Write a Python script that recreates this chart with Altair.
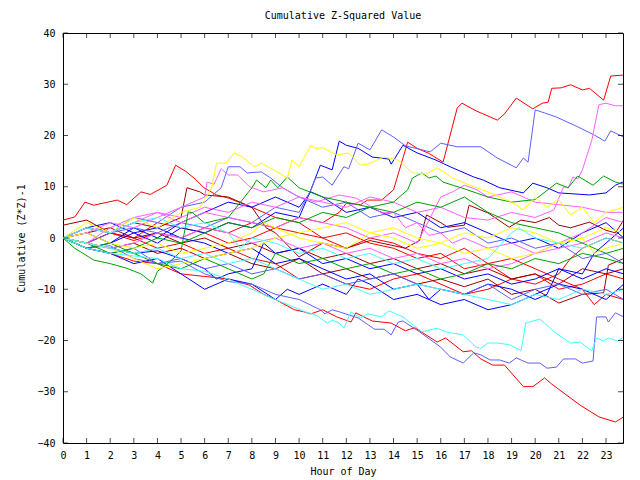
import altair as alt
import pandas as pd

# ---- data: each series is a list of (hour, cumulative value) ----
red_top = [(0,0),(1,-1),(2,1),(3,-0.5),(4,1),(5,0),(6,2),(7,1),(8,3),(9,2),(10,4),(11,3),(11.7,5),(12,6.8),(12.6,6.5),(12.9,7.4),(13.5,7.4),(14.0,9.4),(14.6,18.7),(15,17.5),(15.5,16.5),(16.1,14.8),(16.7,25.4),(16.9,26.3),(17.5,24.8),(18.4,23),(18.7,24.2),(19.2,27.3),(19.9,25.2),(20.3,26.3),(20.55,26.5),(20.7,29.2),(21.1,29.3),(21.5,29.9),(22.0,28.9),(22.3,29.2),(22.9,26.9),(23.2,31.6),(23.75,31.8)]
red_mid = [(0,3.5),(0.5,4.1),(0.93,7),(1.3,6.4),(2.3,7.4),(2.7,6.5),(3.3,9),(3.7,8.5),(4.4,10.3),(4.77,14.2),(5.2,13),(5.6,11.5),(5.97,9.8),(6.5,8.4),(7,7.8),(8,6),(9,4),(10,3),(11,0),(12,1),(13,-1),(14,-2),(15,-4),(16,-3),(17,-6),(18,-5),(19,-8),(20,-7),(21,-10),(22,-9),(23,-7),(23.75,-8)]
red_bottom = [(0,0),(0.5,-1),(1,-2),(2,-3),(3,-4.5),(4,-5),(5,-7),(6,-7.5),(7,-8),(7.9,-9.2),(8.5,-11),(9,-12),(9.8,-14),(10.2,-14.4),(10.5,-14.8),(11,-14),(11.6,-15.4),(12.2,-16.4),(12.4,-14.6),(13.1,-16.2),(13.9,-16.6),(14.5,-18.1),(14.9,-17.5),(15.85,-20.3),(16.2,-19.5),(16.95,-22.2),(17.3,-22),(17.7,-23.6),(18.2,-24.8),(18.7,-24.8),(19.5,-29),(19.9,-29),(20.4,-27.3),(20.7,-28.5),(21.9,-32.6),(22.7,-34.9),(23.4,-35.9),(23.75,-34.9)]
red_4 = [(0,0),(1,-1),(2,1),(3,0),(4,-2),(5,-1),(6,-3),(7,-2),(8,-4),(9,-5),(10,-8),(11,-7),(12,-9),(13,-10),(14,-8),(15,-7),(16,-9),(17,-11),(18,-10),(19,-8),(20,-9),(21,-7),(21.5,-4),(22,-2),(23,0),(23.75,-1)]
red_5 = [(0,0),(1,2),(2,1),(3,0),(4,3),(5,2),(6,1),(7,-1),(8,0),(9,2),(10,1),(11,0),(12,-2),(13,0),(14,-1),(15,-3),(16,-4),(17,-2),(18,-5),(19,-4),(20,-6),(21,-8),(22,-10),(22.5,-13),(23,-11),(23.75,-12)]
darkred_a = [(0,2.5),(1,3.5),(2,1),(3,3),(4,2),(5,4),(5.25,9.8),(5.8,9),(6,8.4),(7,8),(8,6),(8.6,2),(9,1),(10,-3.7),(11,-1),(12,-2),(13,-0.5),(13.9,-1.4),(14.5,-2),(15.1,-0.5),(15.4,4.5),(16,3),(16.3,2.1),(17,2.5),(17.2,6.4),(18,4.9),(18.9,2.1),(19.4,3.5),(20,3),(20.6,4),(21,2.5),(21.5,2),(22.3,3.1),(23,1.5),(23.4,1),(23.75,3.5)]
darkred_b = [(0,0),(1,-1),(2,-2),(3,-1),(4,-3),(5,-2),(6,-4),(7,-3),(8,-5),(9,-6),(10,-4),(11,-7),(12,-6),(13,-8),(14,-7),(15,-9),(16,-8),(17,-9.5),(18,-8),(19,-11),(20,-10),(21,-12.7),(22,-11),(22.9,-10.7),(23.1,-5.3),(23.75,-4)]
darkred_c = [(0,0),(1,1),(2,2),(3,0),(4,1),(5,-1),(6,0),(7,-2),(8,-1),(9,-3),(10,-2),(11,-4),(12,-3),(13,-5),(14,-4),(15,-6),(16,-5),(17,-7),(18,-6),(19,-8),(20,-7),(21,-9),(22,-6),(23,-7),(23.75,-6)]
blue_top = [(0,0),(1,-2),(2,-1),(3,1),(4,-1),(5,2),(6,1),(7,3),(8,2),(9,5),(10,4),(10.5,9.4),(10.9,14.2),(11.4,13.3),(11.7,18.9),(12.0,18.1),(12.5,17.5),(13.1,15.8),(13.8,15.4),(13.9,14.4),(14.4,18.1),(15.0,16.6),(15.8,15.2),(16.4,13.9),(17.4,11.9),(17.8,11.3),(18.5,9.8),(19.5,8.8),(19.9,10.7),(20.5,9.8),(21,8.8),(22.3,8.4),(23.0,8.8),(23.4,10.3),(23.75,11)]
blue_2 = [(0,0),(1,-1),(2,-2),(3,-3),(4,-2.5),(5,-4),(6,-6),(6.5,-8),(7,-7),(8,-6),(8.5,-1),(9,-3),(10,-2),(11,-5),(12,-4),(13,-6),(14,-5),(15,-7),(16,-6),(17,-8),(18,-7),(19,-9),(20,-8),(21,-6),(22,-7),(22.5,-3),(23,-1),(23.75,2)]
blue_3 = [(0,0),(1,2),(2,3),(3,1),(4,2),(5,0),(6,-1),(7,-3),(8,-2),(9,-5),(10,-4),(11,-6),(12,-8),(13,-7),(14,-10),(15,-9),(15.5,-12),(16,-10),(17,-11),(18,-9),(19,-10),(20,-12),(20.5,-11),(21,-6),(22,-8),(23,-6),(23.75,-7)]
blue_4 = [(0,0),(1,1),(2,-1),(3,2),(4,0),(5,3),(6,5),(7,7),(8,6),(9,8),(10,6),(10.5,9),(11,8),(12,5),(13,6),(14,4),(15,5),(16,2),(17,3),(18,1),(19,-1),(20,0),(21,-2),(22,1),(23,3),(23.75,0)]
blue_5 = [(0,0),(1,-2),(2,-3),(3,-5),(4,-4),(5,-7),(6,-10),(7,-8),(8,-9),(9,-12),(9.5,-10),(10,-11),(11,-9),(12,-11),(12.5,-8),(13,-9),(14,-12),(15,-11),(16,-13),(17,-12),(18,-14),(19,-13),(20,-11),(21,-9),(22,-10),(23,-12),(23.75,-9)]
lblue_top = [(0,0),(1,-1),(2,1),(3,2),(4,1),(5,3),(6,2),(7,4),(8,3),(9,6),(10,5),(10.5,9.4),(10.7,11.7),(11.0,11.9),(11.4,10.3),(11.9,13.9),(12.1,13.5),(12.5,18.5),(13.0,17.2),(13.5,21.1),(14.0,19.7),(14.5,18),(15.55,16.8),(16,18.5),(16.7,17.8),(17.7,17.8),(18.4,15.6),(19.2,13.7),(19.5,15.6),(19.7,14.8),(20.0,25),(20.4,24.4),(20.9,23.6),(21.8,21.7),(22.5,20.1),(22.95,18.9),(23.2,20.9),(23.75,19.7)]
lblue_2 = [(0,0),(1,2),(2,1),(3,4),(4,3),(5,6),(6,7),(6.7,9.8),(7.0,13.9),(7.5,13.9),(7.8,12.7),(8.4,12.9),(8.8,11.7),(9.3,9.8),(10,8),(11,6),(12,7),(13,4),(14,5),(15,3),(16,1),(17,2),(18,-1),(19,0),(20,-2),(21,-1),(22,-4),(23,-3),(23.75,-5)]
lblue_bottom = [(0,0),(1,-2),(2,-1.5),(3,-4),(4,-5),(5,-4.5),(6,-7),(7,-8.5),(8,-9),(9,-11),(10,-12),(10.9,-14),(11.1,-14.8),(11.4,-14),(11.7,-14.4),(12.5,-15.6),(13.2,-17.8),(13.6,-17.8),(13.9,-18.9),(14.2,-16.4),(14.4,-16.2),(15.1,-18.3),(16.0,-21.3),(16.4,-23.2),(16.95,-24.4),(17.4,-22.4),(17.7,-22.8),(18.1,-23.8),(18.5,-23.8),(18.9,-24.4),(19.2,-23.4),(19.7,-24.4),(20.2,-24.4),(20.5,-25.4),(20.9,-25.2),(21.2,-23.6),(21.7,-23.6),(22.0,-24.4),(22.45,-24),(22.6,-15.4),(23.0,-15.4),(23.1,-16.4),(23.4,-14.6),(23.75,-15.4)]
lblue_4 = [(0,0),(1,-2),(2,-3),(3,-2),(4,-5),(5,-4),(6,-6),(7,-5),(8,-7),(9,-6),(10,-8),(11,-7),(12,-9),(13,-8),(14,-7),(15,-9),(16,-10),(17,-11),(18,-9),(19,-12),(20,-10),(21,-9),(22,-11),(23,-10),(23.75,-12)]
magenta_top = [(0,0),(1,2),(2,1),(3,3),(4,5),(5,4),(6,6),(7,5),(8,7),(9,6),(10,8),(11,7),(12,6),(13,8),(14,7),(15,5),(16,6),(17,4),(18,3.5),(19,5),(20,4),(20.8,5.5),(21.2,10),(21.4,9.8),(21.6,11.9),(21.8,11.5),(22.0,13.3),(22.4,19.1),(22.7,26),(23.0,26.3),(23.4,25.8),(23.75,25.8)]
magenta_2 = [(0,0),(1,1),(2,3),(3,2),(4,4),(5,6),(6,8),(6.1,10.9),(6.4,10.5),(6.7,13.5),(7.0,12.3),(7.4,12.3),(7.9,10),(8.5,9),(9.3,9.8),(10,8),(10.7,7),(11.7,8.4),(12.4,7.8),(12.8,6.8),(13.5,4.9),(14,5),(14.5,2),(15,3),(15.5,0.5),(16,1),(16.5,-1),(17,0),(18,-2),(19,-1),(20,-3),(21,-2),(22,-1),(23,1),(23.75,0)]
magenta_3 = [(0,0),(1,-1),(2,2),(3,4),(4,5),(5,3),(6,5),(7,4),(8,3),(9,2),(10,4),(11,3),(12,2),(13,0),(14,1),(15,-1),(16,8),(16.5,9),(17,10.3),(17.5,9.5),(18,8),(19,9),(20,7),(21,6.5),(22,6),(23,5),(23.75,5)]
magenta_4 = [(0,0),(1,-1),(2,-2),(3,-1),(4,1),(5,0),(6,2),(7,1),(8,-1),(9,0),(10,-2),(11,-1),(12,-3),(13,-2),(14,-4),(15,-3),(16,-5),(17,-4),(18,-6),(19,-5),(20,-3),(21,-1),(22,1),(23,4),(23.75,3)]
green_1 = [(0,0),(0.5,-2),(1.3,-4.3),(2,-5),(2.7,-5.9),(3.3,-7),(3.8,-8.8),(4.0,-6.5),(4.3,-5.5),(4.75,-3.7),(5.0,-2.5),(5.3,5.1),(5.5,4.9),(6,2.9),(7,4),(8,9.8),(8.2,11.3),(8.6,9.8),(8.8,11.3),(9.1,9.8),(9.5,11.9),(10,9.8),(11,8),(12,7),(13,6),(14,7),(14.6,9.4),(14.8,11.7),(15.2,12.7),(15.5,11.7),(15.8,12.1),(16.1,10.9),(17,9.6),(18,8),(19,7),(20,7.5),(20.9,10.7),(21.4,9.8),(21.8,12.1),(22.45,10.3),(22.9,12.1),(23.4,10.9),(23.75,10.5)]
green_2 = [(0,0),(1,-1),(2,-3),(3,-2),(4,0),(5,-1),(6,1),(7,3),(8,2),(9,4),(10,3),(11,5),(12,4),(13,6),(14,5),(15,7),(16,6),(17,8),(18,5),(19,3),(20,2),(21,1),(22,-1),(23,-3),(23.75,-2)]
green_3 = [(0,0),(1,-2),(2,-1),(3,-3),(4,-5),(5,-6),(6,-4),(7,-6),(8,-8),(8.5,-7),(9,-3),(10,-5),(11,-4),(12,-6),(13,-5),(14,-7),(15,-6),(16,-8),(17,-7),(18,-5),(19,-6),(20,-4),(21,-5),(22,-3),(23,-4),(23.75,-5)]
yellow_top = [(0,0),(1,3),(2,1),(3,4),(4,2),(5,5),(5.8,6),(6.3,9.8),(6.5,14.6),(6.9,14.6),(7.25,16.6),(7.6,15.8),(8.1,13.9),(8.4,14.6),(9.0,13.1),(9.5,11.7),(9.7,15.2),(10.0,13.9),(10.5,18.1),(10.7,17.5),(11.0,17.6),(11.6,16.2),(12.1,16.6),(12.6,14.2),(12.9,14.4),(13.6,15.8),(14.2,15.2),(14.8,12.7),(15.4,12.5),(15.85,13.7),(16.5,11.7),(17.4,10),(18,9),(19,7),(19.5,5.5),(20,8),(20.5,6),(21,7.5),(21.5,4.5),(22,6),(22.5,3),(23,5),(23.75,6)]
yellow_2 = [(0,0),(1,1),(2,-1),(3,-2),(4,-1),(5,-3),(6,-2),(7,-1),(8,1),(8.5,3),(9,2),(10,0),(11,-1),(12,-2),(13,1),(14,0),(15,-2),(16,-1),(17,-3),(18,-2),(19,-4),(20,-3),(21,-1),(22,0),(23,2),(23.75,1)]
yellow_3 = [(0,0),(1,-1),(2,-2),(3,-4),(4,-6),(5,-5),(6,-4),(7,-3),(8,-2),(9,0),(10,1),(11,2),(12,3),(13,1),(14,2),(15,0),(16,-1),(17,1),(18,0),(19,2),(20,1),(21,-1),(22,0),(22.5,-3),(23,-2),(23.75,-1)]
cyan_bottom = [(0,0),(1,-2),(2,-3),(3,-3.5),(4,-4),(5,-6),(6,-6.5),(7,-8),(8,-10),(9,-12),(10.25,-14.4),(10.7,-15),(11.2,-16.6),(11.4,-16),(11.7,-16.6),(11.9,-17.6),(12.2,-14.4),(12.6,-15.6),(12.9,-14.8),(13.5,-15.4),(13.8,-14.2),(14.4,-15.4),(15.2,-18.3),(15.85,-17.6),(16.2,-18.3),(16.95,-18.9),(17.5,-21.3),(17.7,-21.5),(18.0,-20.5),(18.4,-20.5),(18.9,-20.8),(19.4,-22),(19.6,-16.6),(20.2,-15.8),(20.8,-18.3),(21.5,-20.5),(21.9,-20.3),(22.4,-22),(22.6,-19.5),(22.9,-20.1),(23.1,-19.5),(23.5,-20.1),(23.75,-19.3)]
cyan_2 = [(0,0),(1,-1),(2,-2),(3,-3),(4,-2),(5,-4),(6,-3),(7,-5),(8,-4),(9,-6),(10,-8),(11,-10),(12,-9),(13,-11),(14,-10),(15,-9),(16,-10),(17,-11),(18,-12),(19,-13),(20,-11),(21,-12),(22,-10),(23,-11),(23.75,-10)]
cyan_3 = [(0,0),(1,2),(2,1),(3,3),(4,4),(5,2),(6,3),(7,1),(7.5,-2),(8,0),(9,-1),(10,-3),(11,-2),(12,-4),(13,-3),(14,-5),(15,-4),(16,-6),(17,-5),(18,-4),(19,1),(19.3,2),(20,0),(21,-1),(22,-2),(23,0),(23.75,-1)]

series = {
    "red_top": (red_top, "#ff0000"), "red_mid": (red_mid, "#ff0000"),
    "red_bottom": (red_bottom, "#ff0000"), "red_4": (red_4, "#ff0000"), "red_5": (red_5, "#ff0000"),
    "darkred_a": (darkred_a, "#a00000"), "darkred_b": (darkred_b, "#a00000"), "darkred_c": (darkred_c, "#a00000"),
    "blue_top": (blue_top, "#0000ff"), "blue_2": (blue_2, "#0000ff"), "blue_3": (blue_3, "#0000ff"),
    "blue_4": (blue_4, "#0000ff"), "blue_5": (blue_5, "#0000ff"),
    "lblue_top": (lblue_top, "#6060ff"), "lblue_2": (lblue_2, "#6060ff"),
    "lblue_bottom": (lblue_bottom, "#6060ff"), "lblue_4": (lblue_4, "#6060ff"),
    "magenta_top": (magenta_top, "#ff60ff"), "magenta_2": (magenta_2, "#ff60ff"),
    "magenta_3": (magenta_3, "#ff60ff"), "magenta_4": (magenta_4, "#ff60ff"),
    "green_1": (green_1, "#00a000"), "green_2": (green_2, "#00a000"), "green_3": (green_3, "#00a000"),
    "yellow_top": (yellow_top, "#ffff00"), "yellow_2": (yellow_2, "#ffff00"), "yellow_3": (yellow_3, "#ffff00"),
    "cyan_bottom": (cyan_bottom, "#40ffff"), "cyan_2": (cyan_2, "#40ffff"), "cyan_3": (cyan_3, "#40ffff"),
}

hour_ticks = list(range(0, 24))
value_ticks = list(range(-40, 41, 10))
x_max = 23.72

rows = []
for name, (pts, _c) in series.items():
    for i, (h, v) in enumerate(pts):
        rows.append({"series": name, "hour": h, "value": v, "idx": i})
df = pd.DataFrame(rows)
names = list(series.keys())
colors = [series[n][1] for n in names]

FONT = "DejaVu Sans Mono"
W, H = 560, 410

xs = alt.Scale(domain=[0, x_max], nice=False, zero=False)
ys = alt.Scale(domain=[-40, 40], nice=False)

x_axis = alt.Axis(values=hour_ticks, title="Hour of Day", ticks=False, domain=False,
                  grid=False, labelFont=FONT, labelFontSize=10, labelColor="black",
                  labelPadding=7, labelOverlap=False, labelFlush=False,
                  titleFont=FONT, titleFontSize=10,
                  titleFontWeight="normal", titleColor="black", titlePadding=6)
y_axis = alt.Axis(values=value_ticks, title="Cumulative (Z*Z)-1", ticks=False, domain=False,
                  grid=False, labelFont=FONT, labelFontSize=10, labelColor="black",
                  labelPadding=8, labelOverlap=False, titleFont=FONT, titleFontSize=10,
                  titleFontWeight="normal", titleColor="black", titlePadding=10)

lines = alt.Chart(df).mark_line(strokeWidth=1, clip=True).encode(
    x=alt.X("hour:Q", scale=xs, axis=x_axis),
    y=alt.Y("value:Q", scale=ys, axis=y_axis),
    color=alt.Color("series:N", scale=alt.Scale(domain=names, range=colors), legend=None),
    detail="series:N",
    order="idx:Q",
)

ydf = pd.DataFrame({"value": value_ticks})
xdf = pd.DataFrame({"hour": hour_ticks})

yt_left = alt.Chart(ydf).mark_tick(orient="horizontal", size=5, thickness=1, color="black").encode(
    y=alt.Y("value:Q", scale=ys, axis=y_axis), x=alt.value(2.5))
yt_right = alt.Chart(ydf).mark_tick(orient="horizontal", size=5, thickness=1, color="black").encode(
    y=alt.Y("value:Q", scale=ys, axis=y_axis), x=alt.value(W - 2.5))
xt_bottom = alt.Chart(xdf).mark_tick(orient="vertical", size=5, thickness=1, color="black").encode(
    x=alt.X("hour:Q", scale=xs, axis=x_axis), y=alt.value(H - 2.5))
xt_top = alt.Chart(xdf).mark_tick(orient="vertical", size=5, thickness=1, color="black").encode(
    x=alt.X("hour:Q", scale=xs, axis=x_axis), y=alt.value(2.5))

chart = alt.layer(lines, yt_left, yt_right, xt_bottom, xt_top).properties(
    width=W, height=H,
    title=alt.Title("Cumulative Z-Squared Value", font=FONT, fontSize=10, fontWeight="normal",
                    color="black", offset=7),
    autosize=alt.AutoSizeParams(type="none"),
    padding={"left": 63, "top": 33, "right": 17, "bottom": 37},
    background="white",
).configure_view(stroke="black", strokeWidth=1)

chart.save("out.html", embed_options={"renderer": "svg", "actions": False})
